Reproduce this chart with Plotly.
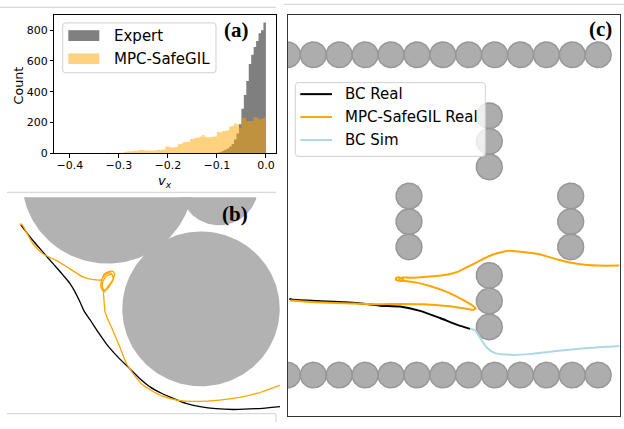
import numpy as np
import plotly.graph_objects as go

W, H = 624, 429


def px(x):
    return x / W


def py(y):
    return 1 - y / H


# ---------------- (a) histogram of v_x ----------------
BIN_WIDTH = 0.005
FIRST_EDGE = -0.41
expert_counts = [
    0, 0, 0, 0, 0, 0, 0, 0, 0, 0, 0, 0, 0, 0, 0, 0, 0, 0, 0, 0,
    0, 0, 0, 0, 0, 0, 0, 0, 0, 0, 0, 0, 0, 0, 0, 0, 0, 0, 0, 0,
    0, 0, 0, 0, 0, 0, 0, 0, 0, 0, 0, 0, 0, 0, 0, 0, 0, 0, 0, 0,
    0, 0,
    5, 10, 16, 24, 32, 45, 62, 90, 130, 190,
    290, 380, 470, 580, 640, 690, 730, 780, 800, 850,
]
mpc_counts = [
    3, 0, 2, 3, 2, 0, 2, 3, 0, 2, 3, 2, 0, 3, 2, 3, 2, 4, 3, 2, 4, 3, 5, 4,
    10, 13, 14, 15, 17, 18, 21, 22, 21, 20, 19, 17, 20, 23, 24, 23, 25,
    45, 44, 38, 40, 42, 60, 62, 72, 74, 75, 94, 96, 102, 104, 110, 119,
    106, 104, 106, 108, 110, 140, 138, 145, 146, 150, 175, 178, 194, 190,
    166, 230, 232, 209, 210, 209, 236, 234, 222, 225, 234,
]
assert len(expert_counts) == len(mpc_counts) == 82
hist_names = ["Expert", "MPC-SafeGIL"]
x_tick_vals = [-0.4, -0.3, -0.2, -0.1, 0.0]
x_tick_text = ["\u22120.4", "\u22120.3", "\u22120.2", "\u22120.1", "0.0"]
y_tick_vals = [0, 200, 400, 600, 800]

# ---------------- (b) zoomed map ----------------
b_obst_cx = [100.6, 212.0, 194.0]
b_obst_cy = [237.2, 229.5, 105.5]
b_obst_r = [85.7, 39.0, 78.7]
b_black_x = [13.7, 18, 26.3, 36.3, 46.3, 56.3, 63, 68, 73, 77, 83, 91, 99.7, 111,
             123, 133, 143, 155, 166.3, 179, 193, 209, 226.3, 249, 273]
b_black_y = [191.2, 185.2, 174.5, 162.8, 151.2, 139.5, 131.2, 122.8, 112.5, 103.5,
             94.5, 82, 69.5, 56.5, 44.5, 34.5, 26.2, 19.5, 14.5, 9.5, 6.2, 4,
             3.2, 4, 6.2]
b_orange_x = [14.5, 13.2, 15, 19.7, 26.3, 36.3, 49.7, 63, 76.3, 86.3, 94.7,
              97, 101, 106, 107.5, 105, 101, 97, 94, 94.5, 99, 104, 106.5, 103,
              99, 96, 95.5, 100, 105, 106, 101, 97, 96.3,
              97, 98, 101, 104.7, 109, 113, 119.7, 126.3, 136.3, 153, 173, 199.7,
              226.3, 249.7, 273]
b_orange_y = [190.5, 191.8, 191.3, 182.8, 171.2, 161.2, 154.5, 146.2, 137.8, 135.2,
              135.2,
              140.5, 143, 143.5, 140.5, 133.5, 127.5, 123, 127.5, 134.5, 141, 142,
              136.5, 129.5, 124.5, 125.5, 132.5, 139.5, 140.5, 135.5, 128.5, 122.5,
              124.5,
              114.5, 102.8, 94.5, 86.2, 76, 66.2, 49.5, 39.5, 27.8, 17.8, 12.2, 11.8,
              14.5, 19.5, 27.8]

# ---------------- (c) corridor map ----------------
c_row_x = [-0.3, 25.6, 51.5, 77.4, 103.3, 129.2, 155.1, 181.0, 206.9, 232.8,
           258.7, 284.6, 310.5]
c_top_row_y = 367.6
c_bottom_row_y = 42.0
c_mid_x = [121.3, 121.3, 121.3, 201.6, 201.6, 201.6, 201.6, 201.6, 201.6,
           283.0, 283.0, 283.0]
c_mid_y = [224.0, 198.0, 172.3, 305.6, 279.6, 253.6, 143.3, 117.3, 91.0,
           224.0, 198.0, 172.3]
c_obst_r = 13.0
c_black_x = [1.8, 3.3, 30.6, 57.3, 80.6, 92.3, 112.3, 132.3, 152.3, 169, 182.3]
c_black_y = [119.8, 118.8, 117.3, 116, 114, 112.6, 111.6, 107.3, 100, 93.3, 89]
c_sim_x = [182.3, 187.3, 192.3, 199, 207.3, 222.3, 242.3, 264, 297.3, 331.6]
c_sim_y = [89, 87.6, 80, 70, 64.3, 62.6, 63.3, 66, 69.3, 71.6]
c_orange_x = [2.3, 30.6, 64, 92.3, 112.3, 135.6, 159, 175.6, 185.6, 188, 184, 172.3,
              159, 142.3, 129, 117.3, 111.3, 108.3, 108.6, 111.3, 114.8, 115.3,
              112.8, 111.8, 115.3, 122.3, 142.3, 159, 169, 179, 189, 202.3, 215.6,
              222.3, 230.6, 250.6, 270.6, 290.6, 310.6, 331.6]
c_orange_y = [117.8, 116, 114.8, 114, 114.3, 114, 112.3, 110, 108.3, 110, 113.3, 120,
              126.6, 132.6, 136, 137.6, 137.8, 139, 140.7, 141.3, 139.8, 138, 137.5,
              139.8, 141.1, 141, 142.3, 144, 146.6, 151.6, 156.6, 163.3, 167.3,
              168.3, 167.6, 165, 159.3, 155, 153.3, 153.3]
c_names = ["BC Real", "MPC-SafeGIL Real", "BC Sim"]
c_colors = ["#000000", "#ffa500", "#add8e6"]

FONT = "DejaVu Sans"
SERIF = "Liberation Serif"


def circle(cx, cy, r, n=90):
    t = np.linspace(0, 2 * np.pi, n)
    return cx + r * np.cos(t), cy + r * np.sin(t)


fig = go.Figure()

# (a) histogram as stepped filled areas
edges = FIRST_EDGE + BIN_WIDTH * np.arange(len(expert_counts) + 1)
for counts, fc in [(expert_counts, "rgba(0,0,0,0.5)"), (mpc_counts, "rgba(255,165,0,0.5)")]:
    fig.add_trace(go.Scatter(
        x=edges, y=list(counts) + [counts[-1]], mode="lines",
        line=dict(width=0, shape="hv"), fill="tozeroy", fillcolor=fc,
        xaxis="x", yaxis="y", hoverinfo="skip", showlegend=False))

# (b) obstacles and trajectories
for cx, cy, r in zip(b_obst_cx, b_obst_cy, b_obst_r):
    xs, ys = circle(cx, cy, r, 200)
    fig.add_trace(go.Scatter(x=xs, y=ys, mode="lines", line=dict(width=0),
                             fill="toself", fillcolor="#b2b2b2",
                             xaxis="x2", yaxis="y2", hoverinfo="skip", showlegend=False))
fig.add_trace(go.Scatter(x=b_black_x, y=b_black_y, mode="lines",
                         line=dict(color="#000000", width=1.3, shape="spline", smoothing=0.8),
                         xaxis="x2", yaxis="y2", hoverinfo="skip", showlegend=False))
fig.add_trace(go.Scatter(x=b_orange_x, y=b_orange_y, mode="lines",
                         line=dict(color="#ffa500", width=1.3, shape="spline", smoothing=0.6),
                         xaxis="x2", yaxis="y2", hoverinfo="skip", showlegend=False))

# (c) obstacles
all_cx = c_row_x + c_row_x + c_mid_x
all_cy = [c_top_row_y] * len(c_row_x) + [c_bottom_row_y] * len(c_row_x) + c_mid_y
for cx, cy in zip(all_cx, all_cy):
    xs, ys = circle(cx, cy, c_obst_r)
    fig.add_trace(go.Scatter(x=xs, y=ys, mode="lines",
                             line=dict(width=1.5, color="#979797"),
                             fill="toself", fillcolor="#adadad",
                             xaxis="x3", yaxis="y3", hoverinfo="skip", showlegend=False))
for xs, ys, col in [(c_black_x, c_black_y, c_colors[0]),
                    (c_orange_x, c_orange_y, c_colors[1]),
                    (c_sim_x, c_sim_y, c_colors[2])]:
    fig.add_trace(go.Scatter(x=xs, y=ys, mode="lines",
                             line=dict(color=col, width=2, shape="spline", smoothing=0.6),
                             xaxis="x3", yaxis="y3", hoverinfo="skip", showlegend=False))


def rounded_rect(x0, y0, x1, y1, r):
    pts = [("M", [(x0 + r, y0)]), ("L", [(x1 - r, y0)]), ("Q", [(x1, y0), (x1, y0 + r)]),
           ("L", [(x1, y1 - r)]), ("Q", [(x1, y1), (x1 - r, y1)]),
           ("L", [(x0 + r, y1)]), ("Q", [(x0, y1), (x0, y1 - r)]),
           ("L", [(x0, y0 + r)]), ("Q", [(x0, y0), (x0 + r, y0)])]
    s = ""
    for cmd, ps in pts:
        s += cmd + " " + " ".join(f"{px(a):.5f},{py(b):.5f}" for a, b in ps) + " "
    return s + "Z"


shapes = []
# light frame lines of the composed figure
for x0, y0, x1, y1 in [(0, 7.5, 276, 7.5), (284, 4.5, 624, 4.5),
                       (7, 195.5, 276, 195.5), (7, 420.5, 276, 420.5),
                       (276, 420.5, 276, 429)]:
    shapes.append(dict(type="line", xref="paper", yref="paper",
                       x0=px(x0), y0=py(y0), x1=px(x1), y1=py(y1),
                       line=dict(color="#d9d9d9", width=1.2), layer="above"))

# legend (a)
shapes.append(dict(type="path", xref="paper", yref="paper",
                   path=rounded_rect(62.7, 23.3, 216, 74, 3),
                   fillcolor="rgba(255,255,255,0.8)", line=dict(color="#d0d0d0", width=1),
                   layer="above"))
for (y0, y1), col in zip([(30.7, 41.7), (54.3, 65)], ["#808080", "#ffd280"]):
    shapes.append(dict(type="rect", xref="paper", yref="paper",
                       x0=px(68.3), x1=px(99.3), y0=py(y1), y1=py(y0),
                       fillcolor=col, line=dict(width=0), layer="above"))

# legend (c)
shapes.append(dict(type="path", xref="paper", yref="paper",
                   path=rounded_rect(295.3, 84, 485.3, 159, 3),
                   fillcolor="rgba(255,255,255,0.8)", line=dict(color="#d0d0d0", width=1),
                   layer="above"))
for yy, col in zip([95.7, 119, 142.3], c_colors):
    shapes.append(dict(type="line", xref="paper", yref="paper",
                       x0=px(300.3), x1=px(332), y0=py(yy), y1=py(yy),
                       line=dict(color=col, width=2), layer="above"))

annotations = []
for txt, yy in zip(hist_names, [36.2, 59.7]):
    annotations.append(dict(text=txt, x=px(111.7), y=py(yy), xref="paper", yref="paper",
                            xanchor="left", yanchor="middle", showarrow=False,
                            font=dict(family=FONT, size=15, color="#000")))
for txt, yy in zip(c_names, [95.7, 119, 142.3]):
    annotations.append(dict(text=txt, x=px(343), y=py(yy), xref="paper", yref="paper",
                            xanchor="left", yanchor="middle", showarrow=False,
                            font=dict(family=FONT, size=15, color="#000")))
for txt, (xx, yy) in zip(["(a)", "(b)", "(c)"], [(236, 31), (235, 218), (600.8, 29.2)]):
    annotations.append(dict(text=f"<b>{txt}</b>", x=px(xx), y=py(yy), xref="paper",
                            yref="paper", xanchor="center", yanchor="middle",
                            showarrow=False, font=dict(family=SERIF, size=21, color="#000")))
annotations.append(dict(text="<i>v</i><sub><i>x</i></sub>", x=px(165), y=py(185),
                        xref="paper", yref="paper", xanchor="center", yanchor="middle",
                        showarrow=False, font=dict(family=FONT, size=13, color="#000")))
annotations.append(dict(text="Count", x=px(18.5), y=py(87.3), xref="paper", yref="paper",
                        xanchor="center", yanchor="middle", textangle=-90, showarrow=False,
                        font=dict(family=FONT, size=12.7, color="#000")))

axis_common = dict(showline=True, mirror=True, linecolor="black", linewidth=0.8,
                   ticks="outside", ticklen=3.5, tickwidth=0.8, tickcolor="black",
                   tickfont=dict(family=FONT, size=11, color="#000"),
                   showgrid=False, zeroline=False)
fig.update_layout(
    width=W, height=H, margin=dict(l=0, r=0, t=0, b=0),
    paper_bgcolor="white", plot_bgcolor="white", showlegend=False,
    font=dict(family=FONT, color="#000"),
    xaxis=dict(domain=[px(54.3), px(276)], range=[-0.4316, 0.0206], anchor="y",
               tickvals=x_tick_vals, ticktext=x_tick_text, ticklabelstandoff=-2,
               **axis_common),
    yaxis=dict(domain=[py(156), py(15)], range=[0, 900], anchor="x",
               tickvals=y_tick_vals, **axis_common),
    xaxis2=dict(domain=[px(7), px(280)], range=[0, 273], anchor="y2", visible=False),
    yaxis2=dict(domain=[py(419.5), py(200.5)], range=[0, 219], anchor="x2", visible=False),
    xaxis3=dict(domain=[px(287.7), px(620)], range=[0, 332.3], anchor="y3",
                showline=True, mirror=True, linecolor="#333333", linewidth=1.2,
                showticklabels=False, ticks="", showgrid=False, zeroline=False),
    yaxis3=dict(domain=[py(423.3), py(15)], range=[0, 408.3], anchor="x3",
                showline=True, mirror=True, linecolor="#333333", linewidth=1.2,
                showticklabels=False, ticks="", showgrid=False, zeroline=False),
    shapes=shapes, annotations=annotations,
)

fig.write_html("out.html", config={"displayModeBar": False},
               post_script="document.body.style.margin='0';document.body.style.padding='0';"
                           "document.body.style.overflow='hidden';")
